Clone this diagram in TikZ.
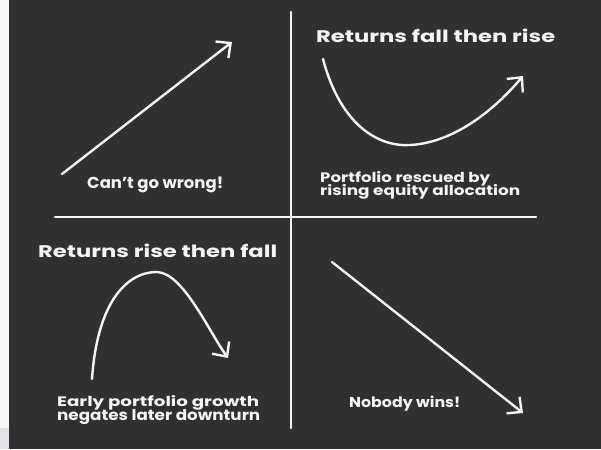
\documentclass[tikz,border=0pt]{standalone}
\usepackage{fontspec}
\setmainfont{Poppins}
\usepackage{graphicx}
\usetikzlibrary{arrows.meta}
\definecolor{board}{HTML}{303030}
\definecolor{chalk}{HTML}{F4F4F4}
\definecolor{strip}{HTML}{F7F7F7}
\definecolor{stripgray}{HTML}{E2E4E8}
\newcommand\chalktext[3]{\resizebox{#1pt}{#2pt}{\bfseries #3}}
\tikzset{
  lbl/.style={anchor=base west, inner sep=0pt, text=chalk},
  chalkline/.style={draw=chalk, line width=2.4pt, line cap=round, line join=round},
  chalkarrow/.style={chalkline, -{Straight Barb[length=11pt,width=21pt,line width=2.4pt]}},
}
\begin{document}
\begin{tikzpicture}[x=1pt,y=-1pt]
\useasboundingbox (0,0) rectangle (601,449);
\fill[strip] (0,0) rectangle (9,449);
\fill[stripgray] (0,428) rectangle (9,449);
\fill[board] (9,0) rectangle (601,449);

% axes
\coordinate (vtop) at (291,12);
\coordinate (vbot) at (291,428);
\coordinate (hleft) at (55,217);
\coordinate (hright) at (536,217);
\draw[chalkline] (vtop) -- (vbot);
\draw[chalkline] (hleft) -- (hright);

% top left: straight rise
\coordinate (a1s) at (62,174);
\coordinate (a1e) at (232,42);
\draw[chalkarrow] (a1s) -- (a1e);
\node[lbl] (t1) at (87,188) {\chalktext{136}{11.5}{Can’t go wrong!}};

% top right: fall then rise
\coordinate (a2s) at (323,59);
\coordinate (a2m) at (410,145);
\coordinate (a2e) at (523,76);
\draw[chalkarrow] (a2s) .. controls (341,127) and (380,147) .. (a2m)
  .. controls (450,143) and (490,115) .. (a2e);
\node[lbl] (h2) at (316,43) {\chalktext{239}{13.5}{Returns fall then rise}};
\node[lbl] (t2a) at (320,182) {\chalktext{170}{11}{Portfolio rescued by}};
\node[lbl] (t2b) at (320,195) {\chalktext{200}{11}{rising equity allocation}};

% bottom left: rise then fall
\coordinate (a3s) at (92,379);
\coordinate (a3m) at (157,272);
\coordinate (a3e) at (228,358);
\draw[chalkarrow] (a3s) .. controls (97,305) and (125,272) .. (a3m)
  .. controls (183,273) and (208,330) .. (a3e);
\node[lbl] (h3) at (38,257) {\chalktext{239}{13.5}{Returns rise then fall}};
\node[lbl] (t3a) at (57,406) {\chalktext{202}{11}{Early portfolio growth}};
\node[lbl] (t3b) at (57,420) {\chalktext{203}{11}{negates later downturn}};

% bottom right: straight fall
\coordinate (a4s) at (332,262);
\coordinate (a4e) at (523,413);
\draw[chalkarrow] (a4s) -- (a4e);
\node[lbl] (t4) at (349,407) {\chalktext{111}{11.5}{Nobody wins!}};
\end{tikzpicture}
\end{document}
